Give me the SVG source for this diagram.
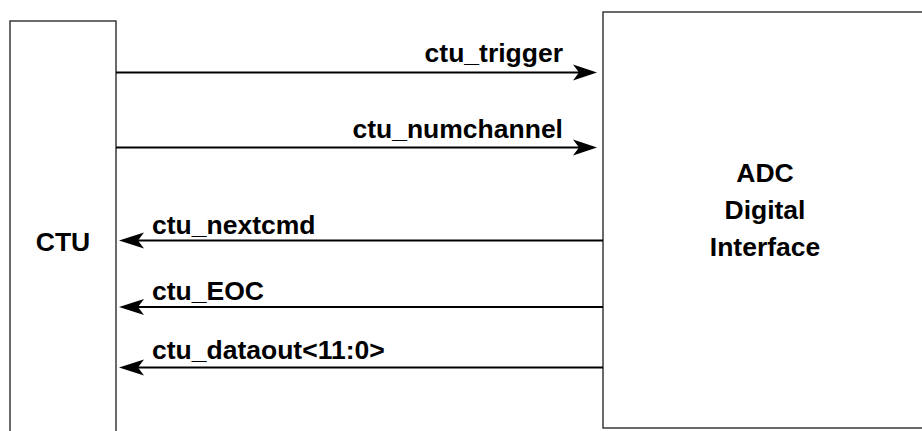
<svg xmlns="http://www.w3.org/2000/svg" width="922" height="431" viewBox="0 0 922 431">
<style>
.box{fill:#fff;stroke:#3a3a3a;stroke-width:1.5}
.t{font-family:"Liberation Sans",Arial,Helvetica,sans-serif;font-weight:bold;font-size:26.5px;fill:#000}
.c{stroke:#000;stroke-width:2;fill:none}
.h{fill:#000}
</style>
<rect width="922" height="431" fill="#fff"/>
<g id="ctu">
<rect class="box" x="10" y="21" width="106" height="430"/>
<text class="t" x="63" y="251" text-anchor="middle">CTU</text>
</g>
<g id="adc">
<rect class="box" x="603" y="12" width="340" height="416"/>
<text class="t" x="765" y="182" text-anchor="middle">ADC</text>
<text class="t" x="765" y="219" text-anchor="middle">Digital</text>
<text class="t" x="765" y="256" text-anchor="middle">Interface</text>
</g>
<g id="connectors">
<line class="c" x1="116" y1="72.5" x2="582" y2="72.5"/>
<polygon class="h" points="597,72.5 573,64.5 579,72.5 573,80.5"/>
<text class="t" x="563" y="62" text-anchor="end">ctu_trigger</text>
<line class="c" x1="116" y1="147.5" x2="582" y2="147.5"/>
<polygon class="h" points="597,147.5 573,139.5 579,147.5 573,155.5"/>
<text class="t" x="563" y="138" text-anchor="end">ctu_numchannel</text>
<line class="c" x1="603" y1="240.5" x2="135" y2="240.5"/>
<polygon class="h" points="119,240.5 144,232.5 138,240.5 144,248.5"/>
<text class="t" x="152" y="234">ctu_nextcmd</text>
<line class="c" x1="603" y1="307" x2="135" y2="307"/>
<polygon class="h" points="119,307 144,299 138,307 144,315"/>
<text class="t" x="152" y="300">ctu_EOC</text>
<line class="c" x1="603" y1="367.5" x2="135" y2="367.5"/>
<polygon class="h" points="119,367.5 144,359.5 138,367.5 144,375.5"/>
<text class="t" x="152" y="359">ctu_dataout&lt;11:0&gt;</text>
</g>
</svg>
